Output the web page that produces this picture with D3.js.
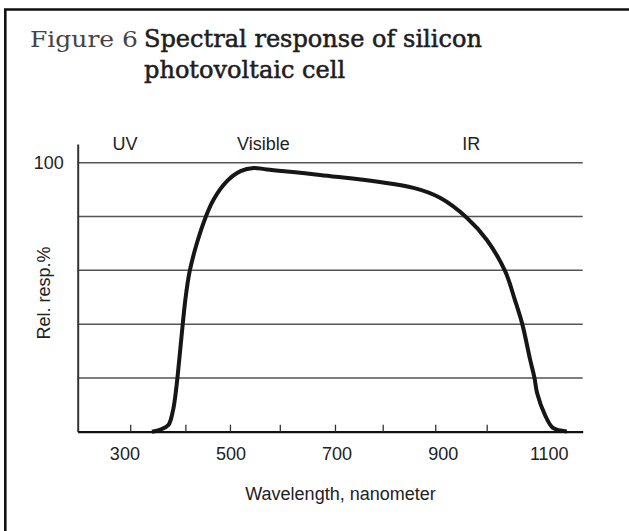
<!DOCTYPE html>
<html><head><meta charset="utf-8">
<script src="https://cdn.jsdelivr.net/npm/d3@7"></script>
<style>body{margin:0;background:#fff} svg{display:block}</style>
</head><body>
<script>
// ---- data ----
const wavelengths = [352, 368, 383, 391, 395, 400, 410, 415.5, 423, 436.5, 453, 468, 493, 519, 544, 569, 669, 845, 895, 945, 983, 1018, 1036, 1050, 1065, 1073, 1078, 1093, 1108, 1134];
const response    = [0, 0.8, 2.5, 7.3, 11.8, 20, 40, 50, 59.6, 70, 79.7, 86.3, 93.1, 96.9, 98.1, 97.5, 95.5, 90.7, 87, 79.7, 71.4, 59.6, 49.1, 40.1, 26.7, 20.1, 14.4, 6.2, 1.4, 0.1];
const gridValues = [20, 40, 60, 80, 100];
const yTickLabels = [100];
const xTickLabels = [300, 500, 700, 900, 1100];
const xTickMarks = [311, 415, 499, 593, 697, 787, 886, 983];
const regionNames = ["UV", "Visible", "IR"];
const regionCenters = [301, 562, 954];
const titleLabel = "Figure 6";
const titleLines = ["Spectral response of silicon", "photovoltaic cell"];
const xTitle = "Wavelength, nanometer";
const yTitle = "Rel. resp.%";

const W = 629, H = 531;
const svg = d3.select("body").append("svg").attr("width", W).attr("height", H);
svg.append("rect").attr("width", W).attr("height", H).attr("fill", "#fff");

// frame (left + top visible)
svg.append("path").attr("d", `M5.3,${H + 5} V9.5 H${W + 5}`)
  .attr("fill", "none").attr("stroke", "#111").attr("stroke-width", 2.6);

const sans = "'Liberation Sans', Arial, Helvetica, sans-serif";
const serif = "'DejaVu Serif', 'Liberation Serif', serif";
const textColor = "#222";

// title
const fig = svg.append("text").attr("x", 30).attr("y", 46.5)
  .attr("font-family", serif).attr("font-size", 22)
  .attr("fill", "#444").text(titleLabel);
fig.attr("textLength", 108).attr("lengthAdjust", "spacingAndGlyphs");

const tl = titleLines.map((t, i) => svg.append("text").attr("x", 144).attr("y", 46.5 + i * 31)
    .attr("font-family", serif).attr("font-size", 22)
    .attr("fill", "#1e1e1e").attr("stroke", "#1e1e1e").attr("stroke-width", 0.55)
    .text(t));
const len0 = tl[0].node().getComputedTextLength();
const fs = 22 * 338 / len0;
tl.forEach(t => t.attr("font-size", fs));

const x = d3.scaleLinear().domain([212, 1164]).range([77.7, 582.7]);
const y = d3.scaleLinear().domain([0, 107]).range([431.7, 144]);

// gridlines
svg.append("g").selectAll("line").data(gridValues).join("line")
  .attr("x1", x.range()[0]).attr("x2", x.range()[1])
  .attr("y1", d => y(d)).attr("y2", d => y(d))
  .attr("stroke", "#555").attr("stroke-width", 1.5);

// curve
const pts = wavelengths.map((w, i) => [w, response[i]]);
svg.append("path").datum(pts)
  .attr("d", d3.line().x(d => x(d[0])).y(d => y(d[1])).curve(d3.curveCatmullRom.alpha(0.5)))
  .attr("fill", "none").attr("stroke", "#161616").attr("stroke-width", 4)
  .attr("stroke-linejoin", "round").attr("stroke-linecap", "butt");

// y axis
const ya = svg.append("g").attr("transform", `translate(${x.range()[0]},0)`)
  .call(d3.axisLeft(y).tickValues(yTickLabels).tickSize(0).tickSizeOuter(0).tickPadding(14));
ya.select(".domain").attr("stroke", "#333").attr("stroke-width", 2);
ya.selectAll("text").attr("font-family", sans).attr("font-size", 18).attr("fill", textColor);

// x axis tick marks + baseline
const xa = svg.append("g").attr("transform", `translate(0,${y(0)})`)
  .call(d3.axisBottom(x).tickValues(xTickMarks).tickSize(-7).tickSizeOuter(0).tickFormat(""));
xa.select(".domain").attr("stroke", "#111").attr("stroke-width", 2.2);
xa.selectAll(".tick line").attr("stroke", "#333").attr("stroke-width", 1.3);

// x axis labels
const xl = svg.append("g").attr("transform", `translate(0,${y(0)})`)
  .call(d3.axisBottom(x).tickValues(xTickLabels).tickFormat(d3.format("d")).tickSize(0).tickPadding(15.5));
xl.select(".domain").remove();
xl.selectAll("text").attr("font-family", sans).attr("font-size", 18).attr("fill", textColor);

// region labels
svg.append("g").selectAll("text").data(regionNames).join("text")
  .attr("x", (d, i) => x(regionCenters[i])).attr("y", 150)
  .attr("text-anchor", "middle").attr("font-family", sans).attr("font-size", 18)
  .attr("fill", textColor).text(d => d);

// axis titles
svg.append("text").attr("x", 340.5).attr("y", 499.5).attr("text-anchor", "middle")
  .attr("font-family", sans).attr("font-size", 18).attr("fill", textColor).text(xTitle);
svg.append("text").attr("transform", "translate(49.5,293) rotate(-90)").attr("text-anchor", "middle")
  .attr("font-family", sans).attr("font-size", 18).attr("fill", textColor).text(yTitle);
</script>
</body></html>
